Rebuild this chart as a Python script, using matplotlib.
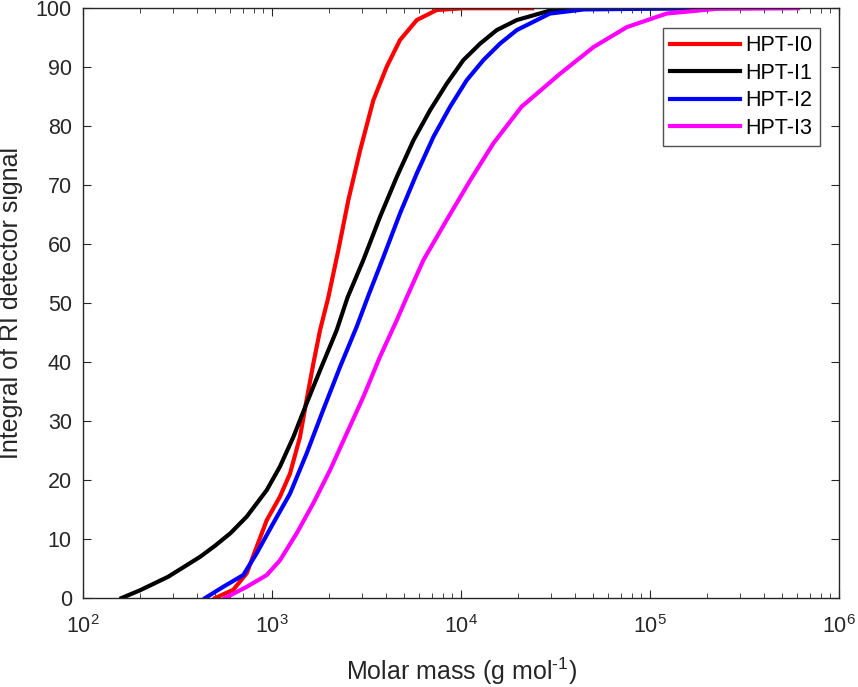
import numpy as np
import matplotlib
matplotlib.use("Agg")
import matplotlib.pyplot as plt

plt.rcParams['font.family'] = 'Liberation Sans'
plt.rcParams['mathtext.fontset'] = 'custom'
plt.rcParams['mathtext.rm'] = 'Liberation Sans'
plt.rcParams['mathtext.default'] = 'regular'

# molar mass (g/mol) and integral of RI signal (%)
m_i0 = [500, 624, 735, 830, 938, 1102, 1245, 1406, 1524, 1656, 1795, 1986, 2244, 2535,
        2924, 3436, 4046, 4753, 5834, 7430, 10280, 23770]
y_i0 = [0, 1.4, 4.2, 8.7, 13.2, 17.2, 21.1, 27.3, 33.6, 39.8, 45.4, 51.0, 59.0, 67.5,
        75.9, 84.4, 90.1, 94.6, 98.0, 99.7, 100, 100]

m_i1 = [160, 200, 282, 417, 501, 603, 735, 938, 1102, 1297, 1524, 1795, 2198, 2512, 3041,
        3724, 4571, 5598, 6855, 8395, 10280, 12618, 15453, 19724, 29512, 44668, 158489]
y_i1 = [0, 1.3, 3.6, 7.0, 8.9, 11.0, 13.8, 18.3, 22.3, 27.3, 33.0, 38.6, 45.4, 51.0, 57.3,
        64.6, 71.4, 77.6, 82.7, 87.2, 91.2, 94.0, 96.3, 98.0, 99.6, 100, 100]

m_i2 = [443, 552, 705, 830, 1016, 1245, 1524, 1866, 2291, 2805, 3236, 3882, 4753, 5834,
        7145, 8750, 10715, 13122, 16069, 19724, 29512, 44668, 177419]
y_i2 = [0, 1.9, 3.9, 7.6, 12.7, 17.7, 24.5, 31.9, 39.2, 46.0, 51.3, 57.8, 65.2, 72.0,
        78.2, 83.3, 87.8, 91.2, 94.0, 96.3, 99.1, 99.8, 100]

m_i3 = [564, 735, 938, 1102, 1352, 1656, 2028, 2483, 3041, 3724, 4571, 5129, 6324, 8395,
        11169, 14825, 20893, 33420, 50119, 75336, 122462, 223872, 606736]
y_i3 = [0, 1.9, 3.9, 6.4, 11.0, 16.1, 21.7, 27.9, 34.1, 40.9, 47.1, 50.8, 57.3, 64.1,
        70.8, 77.1, 83.3, 88.9, 93.4, 96.8, 99.1, 99.9, 100]

labels = ['HPT-I0', 'HPT-I1', 'HPT-I2', 'HPT-I3']
colors = ['#ff0000', '#000000', '#0000ff', '#ff00ff']

fig = plt.figure(figsize=(8.58, 6.87), dpi=100)
ax = fig.add_axes([0.0967, 0.1295, 0.8813, 0.8585])

series = [(m_i0, y_i0), (m_i1, y_i1), (m_i2, y_i2), (m_i3, y_i3)]
for (m, y), lab, c in zip(series, labels, colors):
    ax.plot(m, y, color=c, lw=3, label=lab, solid_joinstyle='round')

ax.set_xscale('log')
ax.set_xlim(1e2, 1e6)
ax.set_ylim(0, 100)
ax.set_yticks(np.arange(0, 101, 10))

ax.tick_params(which='both', direction='in', top=True, right=True,
               labelsize=15.5, colors='#262626')
ax.tick_params(axis='y', pad=8)
ax.tick_params(axis='x', pad=12)
ax.tick_params(which='major', length=6)
ax.tick_params(which='minor', length=3.5)
for s in ax.spines.values():
    s.set_color('#262626')
    s.set_linewidth(1)

# short hyphen in the exponent like the original, not a long minus
ax.set_xlabel('Molar mass (g mol$^{\u2010 1}$)', fontsize=18, color='#262626')
ax.set_ylabel('Integral of RI detector signal', fontsize=18, color='#262626')
# labels sit right at the figure edges, as in the original
ax.xaxis.set_label_coords(0.5, -0.139)
ax.xaxis.label.set_va('baseline')
ax.yaxis.set_label_coords(-0.079, 0.5)

leg = ax.legend(loc='upper right', fontsize=15.5, handlelength=3.25, frameon=True,
                fancybox=False, edgecolor='#262626', borderaxespad=0.9,
                labelspacing=0.3, handletextpad=0.22, borderpad=0.35)
leg.get_frame().set_linewidth(1)

fig.savefig('out.png', dpi=100)
